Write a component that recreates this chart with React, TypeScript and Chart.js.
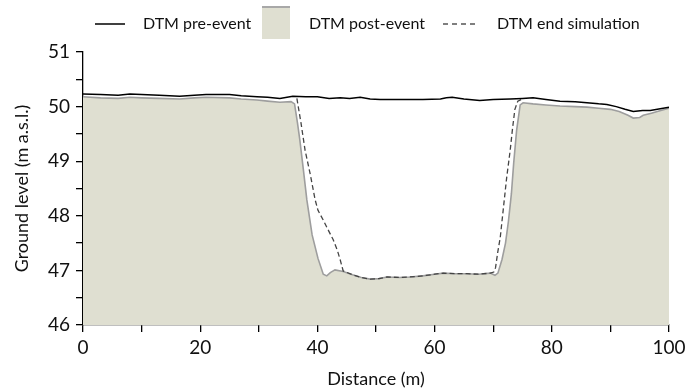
import React, { useEffect, useRef } from "react";
import { Chart, registerables } from "chart.js";

Chart.register(...registerables);

// Distance (m) and ground level (m a.s.l.)
const preX = [0, 3, 6, 8, 10, 13, 16.5, 19, 21, 25, 27, 29.7, 31.5, 33.6, 35.8, 38, 40, 42, 43.9, 45.5, 47.3, 49, 50.7, 55, 58, 61, 62, 63, 65, 67.7, 70, 72.9, 75, 76.8, 79, 81.4, 84, 86, 88, 89.4, 91, 92.5, 93.9, 95.5, 96.8, 98.5, 100];
const preY = [50.23, 50.22, 50.21, 50.23, 50.22, 50.21, 50.19, 50.21, 50.22, 50.22, 50.2, 50.18, 50.17, 50.15, 50.19, 50.18, 50.18, 50.15, 50.16, 50.15, 50.17, 50.14, 50.13, 50.13, 50.13, 50.14, 50.16, 50.17, 50.14, 50.11, 50.13, 50.14, 50.15, 50.16, 50.13, 50.1, 50.09, 50.07, 50.05, 50.04, 50.0, 49.95, 49.91, 49.93, 49.93, 49.96, 49.99];

const postX = [0, 3, 6, 8, 10, 13, 16.5, 19, 21, 25, 27, 29.7, 31.5, 33.6, 35.5, 36.1, 36.6, 37, 37.6, 38.2, 39.1, 40.1, 41, 41.6, 42.2, 43, 44.4, 46, 47.5, 49, 50.5, 51.9, 54, 55.8, 58, 60, 61.5, 63.5, 65.5, 67.5, 69.5, 70.3, 70.8, 71.5, 72.1, 72.6, 73.1, 73.5, 74, 74.6, 75.1, 76.8, 79, 81.4, 84, 86, 88, 90, 91.5, 93, 93.9, 95, 95.6, 97, 98, 100];
const postY = [50.18, 50.16, 50.15, 50.17, 50.16, 50.15, 50.14, 50.16, 50.17, 50.16, 50.14, 50.12, 50.1, 50.08, 50.09, 50.05, 49.7, 49.39, 48.85, 48.29, 47.65, 47.22, 46.93, 46.9, 46.96, 47.01, 46.98, 46.92, 46.87, 46.84, 46.85, 46.88, 46.87, 46.88, 46.9, 46.93, 46.95, 46.94, 46.94, 46.93, 46.95, 46.91, 46.95, 47.2, 47.5, 47.9, 48.4, 48.97, 49.57, 50.03, 50.07, 50.05, 50.03, 50.01, 50.0, 49.99, 49.97, 49.95, 49.91, 49.84, 49.79, 49.8, 49.84, 49.88, 49.91, 49.97];

const simX = [36.5, 37.2, 37.9, 38.8, 39.6, 40.1, 41, 41.8, 42.7, 43.4, 43.9, 44.4, 46, 47.5, 49, 50.5, 51.9, 54, 55.8, 58, 60, 61.5, 63.5, 65.5, 67.5, 69.5, 70.1, 70.4, 70.8, 71.2, 71.7, 72.3, 72.9, 73.3, 73.7, 74.2, 74.8];
const simY = [50.15, 49.7, 49.2, 48.75, 48.3, 48.1, 47.92, 47.75, 47.56, 47.37, 47.19, 46.99, 46.92, 46.87, 46.84, 46.85, 46.88, 46.87, 46.88, 46.9, 46.93, 46.95, 46.94, 46.94, 46.93, 46.95, 46.97, 47.05, 47.35, 47.6, 48.1, 48.7, 49.2, 49.6, 49.95, 50.1, 50.13];

const seriesNames = ["DTM pre-event", "DTM post-event", "DTM end simulation"];
const xTickStep = 10;
const xLabelStep = 20;
const yTickStep = 0.5;

const FONT = "Lato, sans-serif";
const FILL = "#dfdfd1";

const toPoints = (xs: number[], ys: number[]) => xs.map((x, i) => ({ x, y: ys[i] }));

const legendPlugin = {
  id: "customLegend",
  afterDraw(chart: any) {
    const ctx = chart.ctx;
    ctx.save();
    const y = 24;
    ctx.font = `16px ${FONT}`;
    ctx.fillStyle = "#111";
    ctx.textBaseline = "middle";
    // pre-event line
    ctx.strokeStyle = "#000";
    ctx.lineWidth = 1.5;
    ctx.beginPath();
    ctx.moveTo(95, y);
    ctx.lineTo(125, y);
    ctx.stroke();
    ctx.fillText(seriesNames[0], 143, y);
    // post-event box
    ctx.fillStyle = FILL;
    ctx.fillRect(262, 6, 28, 33);
    ctx.strokeStyle = "#a8a8a8";
    ctx.lineWidth = 2;
    ctx.beginPath();
    ctx.moveTo(262, 7);
    ctx.lineTo(290, 7);
    ctx.stroke();
    ctx.fillStyle = "#111";
    ctx.fillText(seriesNames[1], 309, y);
    // dashed
    ctx.strokeStyle = "#555";
    ctx.lineWidth = 1.3;
    ctx.setLineDash([5, 4]);
    ctx.beginPath();
    ctx.moveTo(443, y);
    ctx.lineTo(475, y);
    ctx.stroke();
    ctx.setLineDash([]);
    ctx.fillText(seriesNames[2], 497, y);
    ctx.restore();
  },
};

export default function App() {
  const ref = useRef<HTMLCanvasElement | null>(null);
  useEffect(() => {
    if (!ref.current) return;
    const chart = new Chart(ref.current, {
      type: "line",
      data: {
        datasets: [
          {
            label: seriesNames[0],
            data: toPoints(preX, preY),
            borderColor: "#000",
            borderWidth: 1.5,
            pointRadius: 0,
            fill: false,
            order: 1,
          },
          {
            label: seriesNames[1],
            data: toPoints(postX, postY),
            borderColor: "#9e9e9e",
            borderWidth: 1.6,
            backgroundColor: FILL,
            pointRadius: 0,
            fill: "start",
            order: 3,
          },
          {
            label: seriesNames[2],
            data: toPoints(simX, simY),
            borderColor: "#444",
            borderWidth: 1.3,
            borderDash: [5, 3],
            pointRadius: 0,
            fill: false,
            order: 2,
          },
        ],
      },
      options: {
        responsive: false,
        animation: false,
        layout: { padding: { top: 52, right: 21, left: 0, bottom: 0 } },
        plugins: { legend: { display: false }, tooltip: { enabled: false } },
        scales: {
          x: {
            type: "linear",
            min: 0,
            max: 100,
            border: { color: "#000", width: 1.3 },
            grid: { drawOnChartArea: false, tickLength: 7, color: "#000", lineWidth: 1.3 },
            ticks: {
              stepSize: xTickStep,
              autoSkip: false,
              maxRotation: 0,
              color: "#111",
              font: { family: FONT, size: 19 },
              padding: 4,
              callback: (v: any) => (Number(v) % xLabelStep === 0 ? String(v) : ""),
            },
            title: { display: true, text: "Distance (m)", color: "#111", font: { family: FONT, size: 18 }, padding: { top: 0, bottom: 0 } },
            afterFit: (s: any) => { s.height = 65; },
          },
          y: {
            min: 46,
            max: 51,
            border: { color: "#000", width: 1.3 },
            grid: { drawOnChartArea: false, tickLength: 7, color: "#000", lineWidth: 1.3 },
            ticks: {
              stepSize: yTickStep,
              autoSkip: false,
              color: "#111",
              font: { family: FONT, size: 19 },
              padding: 6,
              callback: (v: any) => (Number(v) % 1 === 0 ? String(v) : ""),
            },
            title: { display: true, text: "Ground level (m a.s.l.)", color: "#111", font: { family: FONT, size: 18 }, padding: { top: 11, bottom: 0 } },
            afterFit: (s: any) => { s.width = 83; },
          },
        },
      },
      plugins: [legendPlugin],
    });
    return () => chart.destroy();
  }, []);
  return (
    <div style={{ position: "absolute", left: 0, top: 0, width: 690, height: 390, background: "#fff" }}>
      <canvas ref={ref} width={690} height={390} />
    </div>
  );
}
